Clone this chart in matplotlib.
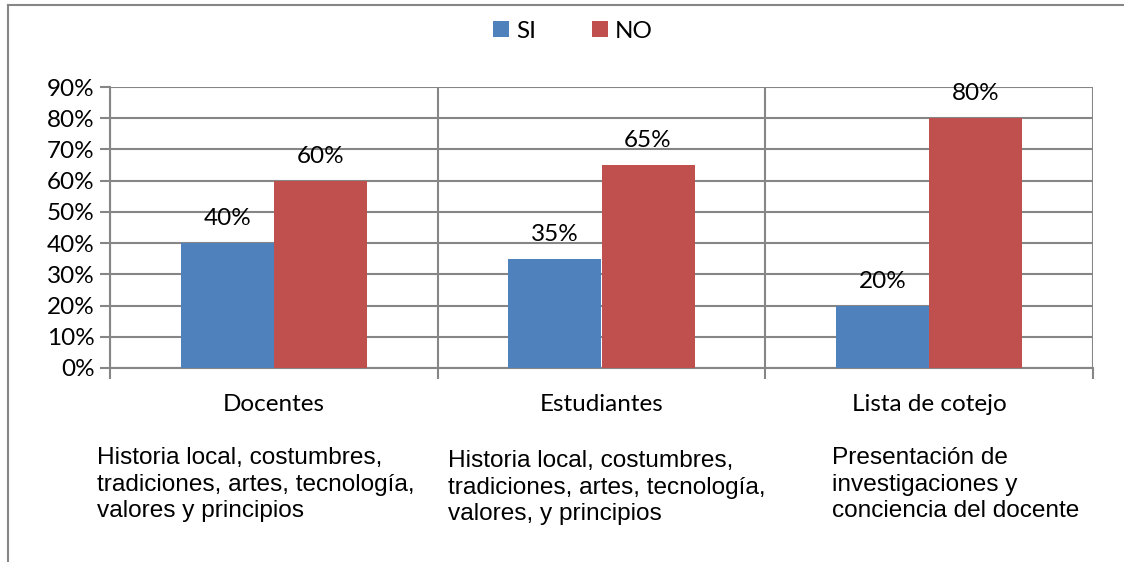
import matplotlib
matplotlib.use("Agg")
import matplotlib.pyplot as plt
from matplotlib.lines import Line2D
import numpy as np

categories = ["Docentes", "Estudiantes", "Lista de cotejo"]
si_values = [40, 35, 20]
no_values = [60, 65, 80]
series_names = ["SI", "NO"]
notes = [
    "Historia local, costumbres,\ntradiciones, artes, tecnología,\nvalores y principios",
    "Historia local, costumbres,\ntradiciones, artes, tecnología,\nvalores, y principios",
    "Presentación de\ninvestigaciones y\nconciencia del docente",
]

BLUE = "#4F81BD"
RED = "#C0504D"
GRID = "#868686"
W, H = 1124, 562

plt.rcParams["font.family"] = ["Lato", "DejaVu Sans"]

fig = plt.figure(figsize=(W / 100, H / 100), dpi=100)
ax = fig.add_axes([110 / W, 1 - 368 / H, (1093 - 110) / W, (368 - 87) / H])

# outer chart frame: only top and left edges are inside the image
top = 1 - 5 / H
left = 8 / W
fig.lines.append(Line2D([left, 1.0], [top, top], transform=fig.transFigure,
                        color=GRID, lw=1.5))
fig.lines.append(Line2D([left, left], [0.0, top], transform=fig.transFigure,
                        color=GRID, lw=1.5))

x = np.arange(len(categories))
bw = 0.284
b1 = ax.bar(x - bw / 2, si_values, bw, color=BLUE, label=series_names[0], zorder=3)
b2 = ax.bar(x + bw / 2, no_values, bw, color=RED, label=series_names[1], zorder=3)

for bars in (b1, b2):
    for r in bars:
        ax.annotate(f"{int(r.get_height())}%", (r.get_x() + r.get_width() / 2, r.get_height()),
                    xytext=(0, 10), textcoords="offset points",
                    ha="center", va="bottom", fontsize=17.5, color="black")

ax.set_xlim(-0.5, 2.5)
ax.set_ylim(0, 90)
ax.set_yticks(np.arange(0, 91, 10))
ax.set_yticklabels([f"{v}%" for v in range(0, 91, 10)], fontsize=17.5)
ax.set_xticks(x)
ax.set_xticklabels(categories, fontsize=17.5)
ax.set_xticks([-0.5, 0.5, 1.5, 2.5], minor=True)
ax.tick_params(axis="x", which="major", length=0, pad=19)
ax.tick_params(axis="x", which="minor", length=8, width=1.5, color=GRID, direction="out")
ax.tick_params(axis="y", length=7, width=1.5, color=GRID, direction="out", pad=4)
ax.grid(axis="y", color=GRID, lw=1.5, zorder=0)
ax.grid(axis="x", which="minor", color=GRID, lw=1.5, zorder=0)
for side in ["top", "right"]:
    ax.spines[side].set_visible(False)
for side in ["left", "bottom"]:
    ax.spines[side].set_color(GRID)
    ax.spines[side].set_linewidth(1.5)
ax.set_axisbelow(True)

fig.legend(handles=[b1, b2], loc="center", bbox_to_anchor=(573 / W, 1 - 31 / H),
           ncol=2, frameon=False, fontsize=17.5, handlelength=0.65, handleheight=0.65,
           handletextpad=0.3, columnspacing=2.3)

note_x = [97, 448, 832]
note_y = [447, 450, 447]
for nx, ny, t in zip(note_x, note_y, notes):
    fig.text(nx / W, 1 - ny / H, t, ha="left", va="top", fontsize=17.6,
             family="Liberation Sans", linespacing=1.27)

fig.savefig("out.png", dpi=100)
